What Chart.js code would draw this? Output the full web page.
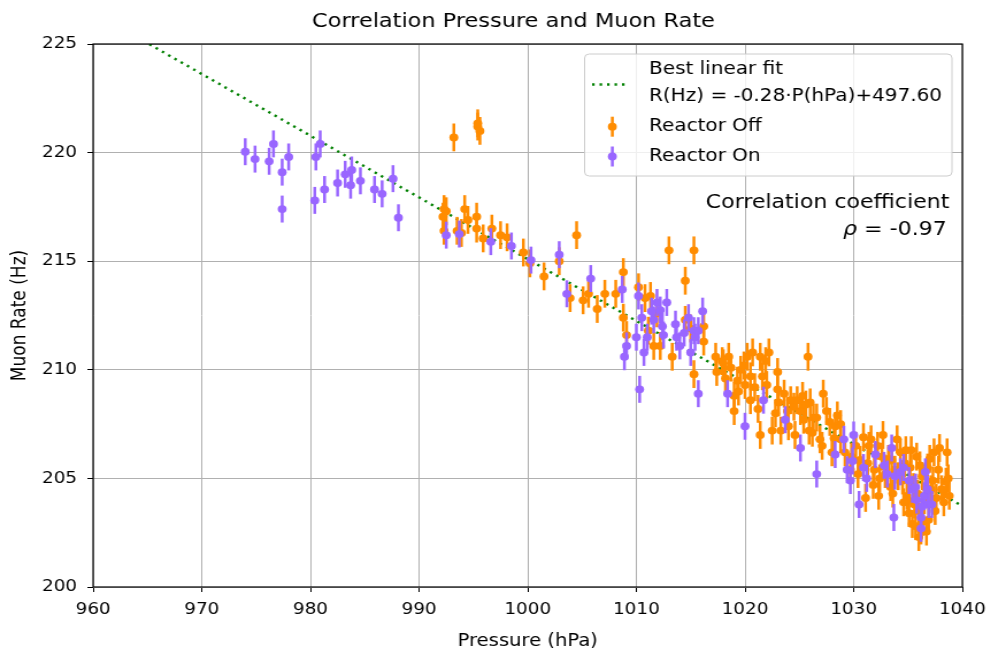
<!DOCTYPE html>
<html>
<head>
<meta charset="utf-8">
<title>Correlation Pressure and Muon Rate</title>
<script src="https://cdn.jsdelivr.net/npm/chart.js@4"></script>
<style>
  body { margin: 0; background: #fff; }
  /* the source figure is stretched horizontally, so draw narrow and stretch */
  #wrap { width: 862px; height: 652px; transform: scaleX(1.1497); transform-origin: 0 0; }
</style>
</head>
<body>
<div id="wrap"><canvas id="muon-chart"></canvas></div>
<script>
// Reactor Off (orange)
const offP = [993.2, 995.4, 995.6, 995.4, 992.3, 992.5, 992.2, 992.3, 993.5, 993.9,
    994.2, 994.5, 995.3, 995.3, 995.9, 996.7, 997.5, 998.1, 999.6, 1000.2,
    1001.5, 1002.9, 1004.5, 1013.0, 1015.3, 1014.5, 1005.6, 1006.4, 1007.1, 1008.1,
    1008.8, 1008.8, 1009.1, 1010.2, 1010.8, 1011.3, 1011.1, 1011.6, 1012.2, 1011.9,
    1013.3, 1014.5, 1015.0, 1015.3, 1016.2, 1016.2, 1017.3, 1018.0, 1017.4, 1017.9,
    1018.5, 1018.7, 1019.0, 1019.0, 1019.3, 1019.6, 1019.9, 1020.0, 1020.2, 1020.5,
    1020.7, 1020.5, 1021.4, 1021.4, 1021.6, 1021.9, 1022.2, 1022.5, 1023.0, 1023.0,
    1023.1, 1023.3, 1023.9, 1024.2, 1024.5, 1024.8, 1025.1, 1025.3, 1025.4, 1025.8,
    1025.9, 1026.0, 1026.3, 1026.6, 1026.9, 1027.1, 1027.2, 1027.5, 1028.3, 1028.5,
    1028.8, 1028.2, 1028.8, 1029.2, 1029.7, 1030.2, 1030.6, 1031.1, 1031.4, 1031.6,
    1031.9, 1032.2, 1032.3, 1032.6, 1032.9, 1033.4, 1033.5, 1033.8, 1034.0, 1034.3,
    1034.5, 1034.8, 1034.9, 1035.1, 1035.2, 1035.4, 1035.5, 1035.8, 1036.0, 1036.2,
    1036.3, 1036.5, 1036.7, 1036.8, 1037.1, 1037.4, 1037.5, 1037.8, 1038.1, 1038.5,
    1038.6, 1038.8, 1003.9, 1005.1,
    1029.8, 1030.4, 1030.9, 1031.3, 1031.8, 1032.4, 1032.7, 1033.2, 1033.6, 1034.1,
    1034.6, 1034.7, 1035.0, 1035.3, 1035.6, 1035.9, 1036.1, 1036.4, 1036.6, 1036.9,
    1037.0, 1037.3, 1037.6, 1037.9, 1038.3, 1038.7, 1035.7, 1036.0,
    1018.2, 1019.4, 1020.9, 1021.2, 1022.0, 1022.8, 1023.6, 1024.0, 1024.6, 1025.6,
    1026.2, 1027.8, 1028.0];
const offR = [220.7, 221.2, 221.0, 221.35, 217.4, 217.3, 217.05, 216.4, 216.4, 216.3,
    217.4, 216.9, 217.05, 216.5, 216.05, 216.5, 216.2, 216.1, 215.4, 214.9,
    214.3, 215.0, 216.2, 215.5, 215.5, 214.1, 213.5, 212.8, 213.5, 213.5,
    214.5, 212.4, 211.6, 213.8, 213.3, 213.4, 211.8, 211.1, 211.1, 212.6,
    210.6, 212.3, 211.9, 209.8, 212.0, 211.3, 210.6, 210.3, 209.9, 210.4,
    210.6, 210.1, 208.8, 208.1, 209.5, 210.0, 210.2, 209.3, 210.6, 209.7,
    210.8, 208.6, 210.6, 207.0, 209.7, 210.4, 210.8, 207.2, 209.9, 209.1,
    208.5, 207.2, 208.1, 208.6, 208.3, 208.6, 208.1, 208.8, 207.7, 210.6,
    207.2, 208.5, 207.8, 207.8, 206.8, 206.5, 208.9, 208.1, 207.4, 207.9,
    206.8, 206.85, 207.5, 206.2, 205.4, 206.5, 205.85, 204.1, 206.5, 206.8,
    205.4, 206.5, 204.2, 206.0, 205.2, 204.6, 205.85, 205.4, 206.8, 206.2,
    204.9, 206.3, 204.2, 203.4, 205.5, 202.9, 204.6, 206.0, 203.5, 202.6,
    205.1, 204.0, 202.55, 205.5, 204.5, 206.2, 203.5, 205.4, 204.5, 204.85,
    206.2, 204.2, 213.3, 213.2,
    206.0, 205.2, 206.9, 205.7, 204.7, 205.0, 207.0, 205.9, 204.3, 205.1,
    203.9, 205.7, 204.0, 206.3, 203.8, 204.3, 205.6, 203.0, 204.6, 203.1,
    205.9, 204.9, 204.1, 206.4, 203.9, 205.0, 202.8, 202.3,
    209.6, 209.0, 209.2, 208.2, 209.3, 208.0, 208.9, 207.4, 207.0, 208.4,
    207.1, 207.6, 206.2];
const offErr = 0.64;

// Reactor On (purple)
const onP = [974.0, 974.9, 976.2, 976.6, 977.4, 977.4, 978.0, 980.4, 980.5, 980.9,
    981.3, 982.5, 983.2, 983.7, 983.8, 984.6, 985.9, 986.6, 987.6, 988.1,
    992.5, 993.7, 996.6, 998.5, 1000.3, 1002.9, 1003.6, 1005.8, 1008.7, 1008.9,
    1009.1, 1010.2, 1010.0, 1010.5, 1010.7, 1011.0, 1011.4, 1011.6, 1011.9, 1012.2,
    1012.4, 1012.8, 1012.5, 1013.6, 1013.7, 1014.0, 1014.4, 1014.8, 1015.0, 1015.3,
    1015.4, 1015.7, 1016.1, 1015.7, 1010.3, 1018.4, 1020.0, 1021.7, 1023.7, 1025.1,
    1026.6, 1028.3, 1029.1, 1029.4, 1030.0, 1029.7, 1030.5, 1029.9, 1030.9, 1031.2,
    1032.0, 1032.8, 1033.1, 1033.5, 1033.7, 1033.8, 1034.3, 1034.6, 1035.1, 1035.4,
    1035.7, 1035.8, 1036.2, 1036.3, 1036.5, 1036.6, 1036.8, 1036.9, 1037.2, 1036.2];
const onR = [220.04, 219.7, 219.6, 220.4, 219.1, 217.4, 219.8, 217.8, 219.8, 220.4,
    218.3, 218.6, 219.0, 218.5, 219.2, 218.7, 218.3, 218.1, 218.8, 217.0,
    216.2, 216.25, 215.9, 215.7, 215.05, 215.3, 213.5, 214.2, 213.7, 210.6,
    211.1, 213.4, 211.5, 212.4, 210.8, 211.5, 212.7, 212.3, 213.1, 212.75,
    212.0, 213.1, 211.6, 212.1, 211.5, 211.1, 211.7, 212.4, 210.8, 211.8,
    211.5, 208.9, 212.7, 211.8, 209.1, 208.9, 207.4, 208.6, 207.7, 206.4,
    205.2, 206.1, 206.8, 205.4, 207.0, 204.9, 203.8, 205.8, 205.5, 205.0,
    206.1, 205.6, 205.2, 206.4, 203.2, 205.1, 205.3, 205.5, 204.9, 204.5,
    204.6, 204.0, 203.2, 203.7, 204.2, 205.3, 204.5, 203.8, 203.8, 202.7];
const onErr = 0.62;

// best linear fit, ends of the line
const fitP = [960, 1040];
const fitR = [226.46, 203.73];

const xTicks = [960, 970, 980, 990, 1000, 1010, 1020, 1030, 1040];
const yTicks = [200, 205, 210, 215, 220, 225];

const ORANGE = '#ff8c00';
const PURPLE = '#9966ff';
const GREEN = '#008000';
const FONT = "'DejaVu Sans', sans-serif";

const toPoints = (xs, ys) => xs.map((v, i) => ({ x: v, y: ys[i] }));

// vertical error bars, drawn under the markers of each series
const errorBars = {
    id: 'errorBars',
    beforeDatasetDraw(chart, args) {
        const ds = chart.data.datasets[args.index];
        if (ds.err === undefined) return;
        const { ctx, scales: { x, y } } = chart;
        ctx.save();
        ctx.strokeStyle = ds.borderColor;
        ctx.lineWidth = 2.5;
        ds.data.forEach(pt => {
            const px = x.getPixelForValue(pt.x);
            ctx.beginPath();
            ctx.moveTo(px, y.getPixelForValue(pt.y - ds.err));
            ctx.lineTo(px, y.getPixelForValue(pt.y + ds.err));
            ctx.stroke();
        });
        ctx.restore();
    }
};

// frame, title, legend box and the correlation note
const decorations = {
    id: 'decorations',
    afterDraw(chart) {
        const { ctx, chartArea: a } = chart;
        ctx.save();
        ctx.strokeStyle = '#000';
        ctx.lineWidth = 1.2;
        ctx.strokeRect(a.left, a.top, a.right - a.left, a.bottom - a.top);

        ctx.fillStyle = '#000';
        ctx.font = '19.5px ' + FONT;
        ctx.textAlign = 'center';
        ctx.textBaseline = 'middle';
        ctx.fillText('Correlation Pressure and Muon Rate', 446.6, 22);

        // legend
        const bx = 508.5, by = 54, bw = 319.5, bh = 122, r = 4;
        ctx.beginPath();
        ctx.roundRect(bx, by, bw, bh, r);
        ctx.fillStyle = 'rgba(255,255,255,0.8)';
        ctx.fill();
        ctx.strokeStyle = '#cccccc';
        ctx.lineWidth = 1;
        ctx.stroke();

        ctx.strokeStyle = GREEN;
        ctx.lineWidth = 2.4;
        ctx.setLineDash([2.2, 4.3]);
        ctx.beginPath();
        ctx.moveTo(515, 84.5);
        ctx.lineTo(545, 84.5);
        ctx.stroke();
        ctx.setLineDash([]);

        [[ORANGE, 126.7], [PURPLE, 156.5]].forEach(([c, cy]) => {
            ctx.strokeStyle = c;
            ctx.fillStyle = c;
            ctx.lineWidth = 2.5;
            ctx.beginPath();
            ctx.moveTo(532.6, cy - 10);
            ctx.lineTo(532.6, cy + 10);
            ctx.stroke();
            ctx.beginPath();
            ctx.arc(532.6, cy, 3.9, 0, Math.PI * 2);
            ctx.fill();
        });

        ctx.fillStyle = '#000';
        ctx.font = '17.4px ' + FONT;
        ctx.textAlign = 'left';
        ctx.fillText('Best linear fit', 564.5, 69.5);
        ctx.fillText('R(Hz) = -0.28\u00b7P(hPa)+497.60', 564.5, 96.5);
        ctx.fillText('Reactor Off', 564.5, 126);
        ctx.fillText('Reactor On', 564.5, 156);

        // correlation coefficient
        ctx.font = '19.2px ' + FONT;
        ctx.textAlign = 'right';
        ctx.fillText('Correlation coefficient', 825.7, 203.5);
        const rest = ' = -0.97';
        const w = ctx.measureText(rest).width;
        ctx.fillText(rest, 823.4, 230);
        ctx.font = 'italic 19.2px ' + FONT;
        ctx.fillText('\u03c1', 823.4 - w, 230);
        ctx.restore();
    }
};

new Chart(document.getElementById('muon-chart'), {
    type: 'scatter',
    data: {
        datasets: [
            {
                type: 'line',
                label: 'Best linear fit',
                data: toPoints(fitP, fitR),
                borderColor: GREEN,
                borderWidth: 2.4,
                borderDash: [2.2, 4.3],
                pointRadius: 0,
                fill: false,
                order: 3
            },
            {
                label: 'Reactor Off',
                data: toPoints(offP, offR),
                backgroundColor: ORANGE,
                borderColor: ORANGE,
                borderWidth: 0,
                pointRadius: 3.9,
                err: offErr,
                order: 2
            },
            {
                label: 'Reactor On',
                data: toPoints(onP, onR),
                backgroundColor: PURPLE,
                borderColor: PURPLE,
                borderWidth: 0,
                pointRadius: 3.9,
                err: onErr,
                order: 1
            }
        ]
    },
    options: {
        responsive: true,
        maintainAspectRatio: false,
        animation: false,
        layout: { padding: { top: 44, right: 25, bottom: 0, left: 0 } },
        plugins: {
            legend: { display: false },
            tooltip: { enabled: false }
        },
        scales: {
            x: {
                type: 'linear',
                min: 960,
                max: 1040,
                afterBuildTicks: (scale) => { scale.ticks = xTicks.map(v => ({ value: v })); },
                afterFit: (scale) => {
                    scale.height = 65;
                    // the end labels may hang over, as in the source
                    scale.paddingLeft = 0;
                    scale.paddingRight = 0;
                },
                grid: { color: '#b0b0b0', lineWidth: 1, tickColor: '#000', tickLength: 5 },
                border: { display: false },
                ticks: { color: '#000', padding: 8, font: { family: FONT, size: 16 }, maxRotation: 0, callback: v => String(v) },
                title: { display: true, text: 'Pressure (hPa)', color: '#000', font: { family: FONT, size: 17 }, padding: { top: 0, bottom: 0 } }
            },
            y: {
                type: 'linear',
                min: 200,
                max: 225,
                afterBuildTicks: (scale) => { scale.ticks = yTicks.map(v => ({ value: v })); },
                afterFit: (scale) => { scale.width = 81; },
                grid: { color: '#b0b0b0', lineWidth: 1, tickColor: '#000', tickLength: 5 },
                border: { display: false },
                ticks: { color: '#000', padding: 9, font: { family: FONT, size: 16 }, callback: v => String(v) },
                title: { display: true, text: 'Muon Rate (Hz)', color: '#000', font: { family: FONT, size: 17 }, padding: { top: 7, bottom: 0 } }
            }
        }
    },
    plugins: [errorBars, decorations]
});
</script>
</body>
</html>
